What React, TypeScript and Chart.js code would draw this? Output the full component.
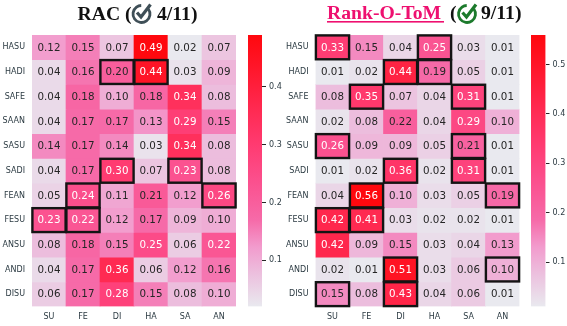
import React, { useEffect, useRef } from "react";
import { Chart, registerables } from "chart.js";

Chart.register(...registerables);

const columns = ["SU", "FE", "DI", "HA", "SA", "AN"];
const rows = ["HASU", "HADI", "SAFE", "SAAN", "SASU", "SADI", "FEAN", "FESU", "ANSU", "ANDI", "DISU"];

const racValues = [
  [0.12, 0.15, 0.07, 0.49, 0.02, 0.07],
  [0.04, 0.16, 0.2, 0.44, 0.03, 0.09],
  [0.04, 0.18, 0.1, 0.18, 0.34, 0.08],
  [0.04, 0.17, 0.17, 0.13, 0.29, 0.15],
  [0.14, 0.17, 0.14, 0.03, 0.34, 0.08],
  [0.04, 0.17, 0.3, 0.07, 0.23, 0.08],
  [0.05, 0.24, 0.11, 0.21, 0.12, 0.26],
  [0.23, 0.22, 0.12, 0.17, 0.09, 0.1],
  [0.08, 0.18, 0.15, 0.25, 0.06, 0.22],
  [0.04, 0.17, 0.36, 0.06, 0.12, 0.16],
  [0.06, 0.17, 0.28, 0.15, 0.08, 0.1],
];
const rankValues = [
  [0.33, 0.15, 0.04, 0.25, 0.03, 0.01],
  [0.01, 0.02, 0.44, 0.19, 0.05, 0.01],
  [0.08, 0.35, 0.07, 0.04, 0.31, 0.01],
  [0.02, 0.08, 0.22, 0.04, 0.29, 0.1],
  [0.26, 0.09, 0.09, 0.05, 0.21, 0.01],
  [0.01, 0.02, 0.36, 0.02, 0.31, 0.01],
  [0.04, 0.56, 0.1, 0.03, 0.05, 0.19],
  [0.42, 0.41, 0.03, 0.02, 0.02, 0.01],
  [0.42, 0.09, 0.15, 0.03, 0.04, 0.13],
  [0.02, 0.01, 0.51, 0.03, 0.06, 0.1],
  [0.15, 0.08, 0.43, 0.04, 0.06, 0.01],
];
// [row, column] of the outlined cells
const racBoxes = [[1, 2], [1, 3], [5, 2], [5, 4], [6, 1], [6, 5], [7, 0], [7, 1]];
const rankBoxes = [
  [0, 0], [0, 3], [1, 2], [1, 3], [2, 1], [2, 4], [4, 0], [4, 4], [5, 2],
  [5, 4], [6, 1], [6, 5], [7, 0], [7, 1], [9, 2], [9, 5], [10, 0], [10, 2],
];
const racRange = [0.02, 0.49];
const rankRange = [0.01, 0.56];
const racTicks = [0.1, 0.2, 0.3, 0.4];
const rankTicks = [0.1, 0.2, 0.3, 0.4, 0.5];

const colorStops: [number, number[]][] = [
  [0, [233, 233, 239]],
  [0.12, [236, 192, 222]],
  [0.22, [242, 155, 205]],
  [0.32, [246, 106, 168]],
  [0.46, [251, 80, 142]],
  [0.6, [255, 58, 112]],
  [0.74, [255, 40, 78]],
  [0.88, [255, 22, 42]],
  [1, [255, 8, 14]],
];

function colorAt(t: number): string {
  const v = Math.max(0, Math.min(1, t));
  for (let i = 1; i < colorStops.length; i++) {
    const [t1, c1] = colorStops[i];
    const [t0, c0] = colorStops[i - 1];
    if (v <= t1) {
      const f = (v - t0) / (t1 - t0);
      const c = c0.map((x, k) => Math.round(x + (c1[k] - x) * f));
      return `rgb(${c[0]},${c[1]},${c[2]})`;
    }
  }
  return "rgb(255,8,14)";
}

const tickColor = "#2b3a42";
const tickFont = { family: "'DejaVu Sans'", size: 8 };

function heatmapConfig(
  values: number[][],
  range: number[],
  boxes: number[][],
  chartLeft: number,
  chartRight: number,
  drawTitle: (ctx: CanvasRenderingContext2D) => void,
  canvasWidth: number
): any {
  const norm = (v: number) => (v - range[0]) / (range[1] - range[0]);
  const heatPlugin = {
    id: "heatOverlay",
    afterDatasetsDraw(chart: any) {
      const { ctx, scales } = chart;
      const xs = scales.x;
      const ys = scales.yv;
      const half = (xs.getPixelForValue(1) - xs.getPixelForValue(0)) / 2;
      ctx.save();
      ctx.font = "10.3px 'DejaVu Sans'";
      ctx.textAlign = "center";
      ctx.textBaseline = "middle";
      values.forEach((row, r) => {
        row.forEach((v, c) => {
          ctx.fillStyle = norm(v) >= 0.42 ? "#ffffff" : "#262626";
          ctx.fillText(v.toFixed(2), xs.getPixelForValue(c), ys.getPixelForValue(r + 0.5) + 0.5);
        });
      });
      ctx.strokeStyle = "#141414";
      ctx.lineWidth = 2.4;
      boxes.forEach(([r, c]) => {
        const x0 = xs.getPixelForValue(c) - half;
        const y0 = ys.getPixelForValue(r);
        const y1 = ys.getPixelForValue(r + 1);
        ctx.strokeRect(x0 + 0.4, y0 + 0.4, half * 2 - 0.8, y1 - y0 - 0.8);
      });
      ctx.restore();
      drawTitle(ctx);
    },
  };
  return {
    type: "bar",
    plugins: [heatPlugin],
    data: {
      labels: columns,
      datasets: values.map((row, r) => ({
        label: rows[r],
        data: row.map(() => [r, r + 1]),
        backgroundColor: row.map((v) => colorAt(norm(v))),
        borderWidth: 0,
        grouped: false,
        barPercentage: 1,
        categoryPercentage: 1,
        xAxisID: "x",
        yAxisID: "yv",
      })),
    },
    options: {
      animation: false,
      responsive: false,
      layout: { padding: { top: 35, left: 0, right: canvasWidth - chartRight, bottom: 0 } },
      plugins: { legend: { display: false }, title: { display: false }, tooltip: { enabled: false } },
      scales: {
        x: {
          type: "category",
          grid: { display: false, drawTicks: false },
          border: { display: false },
          ticks: { color: tickColor, font: tickFont, padding: 6, maxRotation: 0, autoSkip: false },
          afterFit(s: any) {
            s.height = 19.5;
          },
        },
        yv: { type: "linear", min: 0, max: 11, reverse: true, display: false },
        yl: {
          axis: "y",
          type: "category",
          labels: rows,
          offset: true,
          position: "left",
          grid: { display: false, drawTicks: false },
          border: { display: false },
          ticks: { color: tickColor, font: tickFont, padding: 7, autoSkip: false },
          afterFit(s: any) {
            s.width = chartLeft;
          },
        },
      },
    },
  };
}

function colorbarConfig(range: number[], ticks: number[], barLeft: number, barRight: number, width: number): any {
  return {
    type: "bar",
    data: {
      labels: [""],
      datasets: [
        {
          data: [range],
          borderWidth: 0,
          barPercentage: 1,
          categoryPercentage: 1,
          backgroundColor(c: any) {
            const area = c.chart.chartArea;
            if (!area) return "#ff0000";
            const g = c.chart.ctx.createLinearGradient(0, area.bottom, 0, area.top);
            colorStops.forEach(([t]) => g.addColorStop(t, colorAt(t)));
            return g;
          },
        },
      ],
    },
    options: {
      animation: false,
      responsive: false,
      layout: { padding: { top: 35, left: barLeft, right: 0, bottom: 19.5 } },
      plugins: { legend: { display: false }, title: { display: false }, tooltip: { enabled: false } },
      scales: {
        x: { display: false },
        y: {
          type: "linear",
          position: "right",
          min: range[0],
          max: range[1],
          grid: { drawOnChartArea: false, drawTicks: true, tickLength: 4, tickColor: "#262626", tickWidth: 1 },
          border: { display: false },
          afterBuildTicks(s: any) {
            s.ticks = ticks.map((value) => ({ value }));
          },
          ticks: {
            color: tickColor,
            font: tickFont,
            padding: 3,
            callback: (v: any) => Number(v).toFixed(1),
          },
          afterFit(s: any) {
            s.width = width - barRight;
          },
        },
      },
    },
  };
}

function drawIcon(ctx: CanvasRenderingContext2D, cx: number, cy: number, color: string) {
  ctx.save();
  ctx.strokeStyle = color;
  ctx.lineCap = "butt";
  ctx.lineWidth = 2.8;
  ctx.beginPath();
  ctx.arc(cx, cy + 0.5, 8.5, -0.2 * Math.PI, 1.49 * Math.PI);
  ctx.stroke();
  ctx.lineWidth = 3.2;
  ctx.beginPath();
  ctx.moveTo(cx - 4.5, cy - 1);
  ctx.lineTo(cx - 0.5, cy + 3.5);
  ctx.lineTo(cx + 9, cy - 9);
  ctx.stroke();
  ctx.restore();
}

function drawRacTitle(ctx: CanvasRenderingContext2D) {
  ctx.save();
  ctx.font = "bold 19.7px 'Liberation Serif'";
  ctx.textBaseline = "alphabetic";
  ctx.textAlign = "left";
  ctx.fillStyle = "#111111";
  ctx.fillText("RAC (", 77.5, 19.5);
  ctx.fillText("4/11)", 157, 19.5);
  ctx.restore();
  drawIcon(ctx, 141.5, 13.5, "#3f4f57");
}

function drawRankTitle(ctx: CanvasRenderingContext2D) {
  ctx.save();
  ctx.font = "bold 19.7px 'Liberation Serif'";
  ctx.textBaseline = "alphabetic";
  ctx.textAlign = "left";
  ctx.fillStyle = "#ee1070";
  ctx.fillText("Rank-O-ToM", 43, 18.5);
  ctx.fillRect(43, 21, 117, 1.6);
  ctx.fillStyle = "#111111";
  ctx.fillText("(", 166, 18.5);
  ctx.fillText("9/11)", 197, 18.5);
  ctx.restore();
  drawIcon(ctx, 183, 13.5, "#1c7a2c");
}

const canvasStyle = (left: number, width: number): React.CSSProperties => ({
  position: "absolute",
  left,
  top: 0,
  width,
  height: 326,
  display: "block",
});

export default function App() {
  const a = useRef<HTMLCanvasElement>(null);
  const b = useRef<HTMLCanvasElement>(null);
  const c = useRef<HTMLCanvasElement>(null);
  const d = useRef<HTMLCanvasElement>(null);

  useEffect(() => {
    const charts = [
      new Chart(a.current!, heatmapConfig(racValues, racRange, racBoxes, 32, 236, drawRacTitle, 245)),
      new Chart(b.current!, colorbarConfig(racRange, racTicks, 8, 22, 44)),
      new Chart(c.current!, heatmapConfig(rankValues, rankRange, rankBoxes, 31.5, 235.5, drawRankTitle, 245)),
      new Chart(d.current!, colorbarConfig(rankRange, rankTicks, 6, 20.5, 42)),
    ];
    return () => charts.forEach((x) => x.destroy());
  }, []);

  return (
    <div style={{ position: "fixed", left: 0, top: 0, width: 567, height: 326, background: "#fff", overflow: "hidden" }}>
      <canvas ref={a} width={245} height={326} style={canvasStyle(0, 245)} />
      <canvas ref={b} width={44} height={326} style={canvasStyle(240, 44)} />
      <canvas ref={c} width={245} height={326} style={canvasStyle(284, 245)} />
      <canvas ref={d} width={42} height={326} style={canvasStyle(525, 42)} />
    </div>
  );
}
